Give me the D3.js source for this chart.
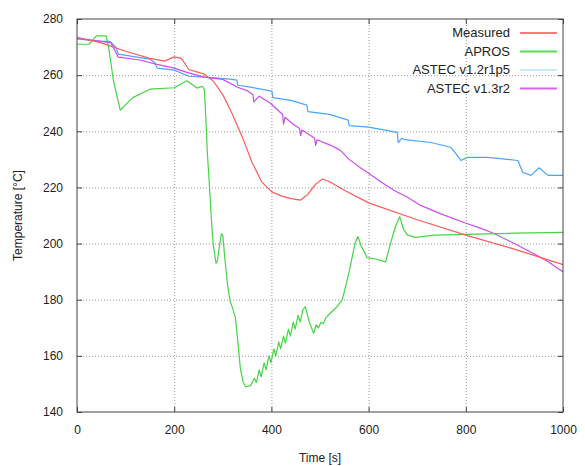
<!DOCTYPE html>
<html lang="en">
<head>
    <meta charset="UTF-8">
    <title>Temperature vs time</title>
    <script src="https://d3js.org/d3.v7.min.js"></script>
    <style>
        body { margin: 0; background: #fff; }
        text {
            font-family: "Liberation Sans", Arial, sans-serif;
            font-size: 12px;
            fill: #222;
        }
        .grid line {
            stroke: #999;
            stroke-width: 1px;
            stroke-dasharray: 1,2;
        }
        .frame {
            fill: none;
            stroke: #444;
            stroke-width: 1px;
        }
        .series {
            fill: none;
            stroke-width: 1.2px;
            stroke-linejoin: round;
        }
    </style>
</head>
<body>
    <svg width="585" height="466"></svg>

    <script>
        // Tick values
        const xTicks = [0, 200, 400, 600, 800, 1000];
        const yTicks = [140, 160, 180, 200, 220, 240, 260, 280];

        // Series names and colours
        const seriesNames = ["Measured", "APROS", "ASTEC v1.2r1p5", "ASTEC v1.3r2"];
        const lineColors = ["#ff5a5a", "#44d644", "#48a6ff", "#cc4cf0"];
        const legendColors = ["#ff7a7a", "#55dd55", "#c6e9ff", "#d466f2"];

        // Measured
        const measuredT = [0, 50, 100, 150, 180, 200, 215, 230, 250, 260, 280, 300, 320, 340, 360, 380, 400, 420, 440, 460, 475, 490, 505, 520, 550, 600, 700, 800, 900, 1000];
        const measuredV = [273.5, 271.5, 268.5, 266, 265, 266.5, 266, 262, 261, 260.5, 258, 253, 246, 238, 229, 222, 218.5, 217, 216, 215.5, 217.5, 221, 223, 222, 219, 214.5, 208.5, 203, 198, 192.5];

        // APROS
        const aprosT = [0, 25, 40, 60, 65, 75, 89, 100, 115, 150, 200, 226, 247, 258, 262, 265, 268, 272, 276, 280, 286, 289, 293, 297, 300, 304, 310, 315, 320, 326, 331, 336, 342, 347, 352, 357,
                        365, 369, 375, 379, 385, 389, 395, 399, 405, 409, 415, 419, 425, 429, 435, 439, 445, 449, 455, 459, 465, 470, 478, 487, 492, 497, 502, 507, 512, 520, 535, 546, 560, 572, 578,
                        585, 597, 615, 635, 645, 655, 664, 672, 680, 697, 735, 800, 900, 1000];
        const aprosV = [271, 271, 274, 274, 270, 258, 247.5, 249.5, 252, 255, 255.5, 258, 255.4, 256, 255, 245, 233, 222, 210, 200, 193, 194, 199, 203.5, 203, 195, 185, 179.6, 177, 173.6, 165, 155.7, 150.5, 149, 149.2, 149.4,
                        152, 150.5, 155, 152.5, 157.5, 155, 160, 157.5, 162.5, 160, 165, 162.5, 167, 164.5, 169.5, 167, 172, 169.5, 174.5, 172, 176.5, 177.5, 172, 168, 171, 170, 172, 171.5, 173.5, 175, 177.5, 180, 190, 200, 202.5,
                        199, 195, 194.5, 193.5, 200, 206, 209.6, 205, 203, 202.2, 203, 203.3, 203.7, 204];

        // ASTEC v1.2r1p5
        const astec12T = [0, 50, 68, 80, 85, 120, 150, 160, 165, 200, 230, 262, 315, 329, 331, 357, 401, 403, 440, 473, 475, 520, 558, 560, 600, 659, 661, 668, 675, 728, 769, 773, 790, 804, 845, 907, 917, 934, 951, 969, 1000];
        const astec12V = [273, 272, 272, 270, 267.5, 266.5, 265.7, 264.5, 262.5, 261.8, 259.6, 259.3, 258.6, 258.2, 256.4, 255.7, 254.3, 252, 251, 249.3, 247, 246, 244, 242, 241.5, 239.6, 236, 237.5, 237, 236, 234.3, 233.5, 229.6, 230.7, 230.7, 229.6, 225.4, 224.3, 227, 224.3, 224.3];

        // ASTEC v1.3r2
        const astec13T = [0, 50, 70, 85, 130, 160, 200, 226, 262, 300, 330, 350, 362, 364, 375, 398, 423, 425, 428, 445, 458, 460, 463, 489, 491, 494, 522, 542, 560, 583, 597, 625, 652, 680, 707, 750, 796, 830, 858, 900, 940, 970, 990, 1000];
        const astec13V = [273, 272, 271.5, 266.4, 265.4, 264, 262.5, 261, 259.3, 258.5, 255.7, 254.5, 253, 250.5, 252.5, 250, 246, 242.5, 245, 242.5, 241, 238.5, 240.5, 237.5, 235, 237, 235, 233.2, 230, 227, 225.4, 222, 219, 216.5, 213.6, 210.5, 207.5, 205.5, 203.6, 200, 196.4, 193.5, 191, 190];

        const svg = d3.select("svg"),
              width = +svg.attr("width"),
              height = +svg.attr("height");

        const margin = { top: 19, right: 22, bottom: 54, left: 77 };
        const w = width - margin.left - margin.right,
              h = height - margin.top - margin.bottom;

        const x = d3.scaleLinear().domain([0, 1000]).range([0, w]);
        const y = d3.scaleLinear().domain([140, 280]).range([h, 0]);

        const g = svg.append("g").attr("transform", `translate(${margin.left},${margin.top})`);

        // Dotted grid
        const grid = g.append("g").attr("class", "grid");
        grid.selectAll(".gx").data(xTicks.slice(1, -1)).enter().append("line")
            .attr("x1", d => x(d) + 0.5).attr("x2", d => x(d) + 0.5)
            .attr("y1", 0).attr("y2", h);
        grid.selectAll(".gy").data(yTicks.slice(1, -1)).enter().append("line")
            .attr("x1", 0).attr("x2", w)
            .attr("y1", d => y(d) + 0.5).attr("y2", d => y(d) + 0.5);

        // Axes with inward ticks on all four sides
        const tickStyle = sel => {
            sel.select(".domain").remove();
            sel.selectAll(".tick line").attr("stroke", "#444");
        };
        const fmt = d3.format("d");
        g.append("g").attr("transform", `translate(0,${h})`)
            .call(d3.axisBottom(x).tickValues(xTicks).tickFormat(fmt).tickSizeInner(-5).tickSizeOuter(0).tickPadding(13))
            .call(tickStyle)
            .selectAll("text").style("font-size", "12px").style("font-family", "Liberation Sans, Arial, sans-serif").attr("fill", "#222");
        g.append("g")
            .call(d3.axisTop(x).tickValues(xTicks).tickSizeInner(-5).tickSizeOuter(0).tickFormat(""))
            .call(tickStyle);
        g.append("g")
            .call(d3.axisLeft(y).tickValues(yTicks).tickFormat(fmt).tickSizeInner(-5).tickSizeOuter(0).tickPadding(14))
            .call(tickStyle)
            .selectAll("text").style("font-size", "12px").style("font-family", "Liberation Sans, Arial, sans-serif").attr("fill", "#222");
        g.append("g").attr("transform", `translate(${w},0)`)
            .call(d3.axisRight(y).tickValues(yTicks).tickSizeInner(-5).tickSizeOuter(0).tickFormat(""))
            .call(tickStyle);

        // Series
        const series = [
            { t: measuredT, v: measuredV },
            { t: aprosT, v: aprosV },
            { t: astec12T, v: astec12V },
            { t: astec13T, v: astec13V }
        ];
        const line = d3.line().x(d => x(d[0])).y(d => y(d[1]));

        // draw order: blue, magenta, green, red
        [2, 3, 1, 0].forEach(i => {
            const pts = series[i].t.map((t, k) => [t, series[i].v[k]]);
            g.append("path")
                .attr("class", "series")
                .attr("stroke", lineColors[i])
                .attr("d", line(pts));
        });

        // Frame
        g.append("rect").attr("class", "frame").attr("width", w).attr("height", h);

        // Legend
        const legend = g.append("g").attr("transform", `translate(${w - 53},14)`);
        seriesNames.forEach((name, i) => {
            const row = legend.append("g").attr("transform", `translate(0,${i * 18.5})`);
            row.append("text")
                .attr("x", 0).attr("y", 4)
                .attr("text-anchor", "end")
                .style("font-size", "13px")
                .text(name);
            row.append("line")
                .attr("x1", 10).attr("x2", 47)
                .attr("stroke", legendColors[i])
                .attr("stroke-width", 2);
        });

        // Axis titles
        svg.append("text")
            .attr("x", margin.left + w / 2)
            .attr("y", 462)
            .attr("text-anchor", "middle")
            .text("Time [s]");
        svg.append("text")
            .attr("transform", `translate(22,${margin.top + h / 2}) rotate(-90)`)
            .attr("text-anchor", "middle")
            .text("Temperature [°C]");
    </script>
</body>
</html>
